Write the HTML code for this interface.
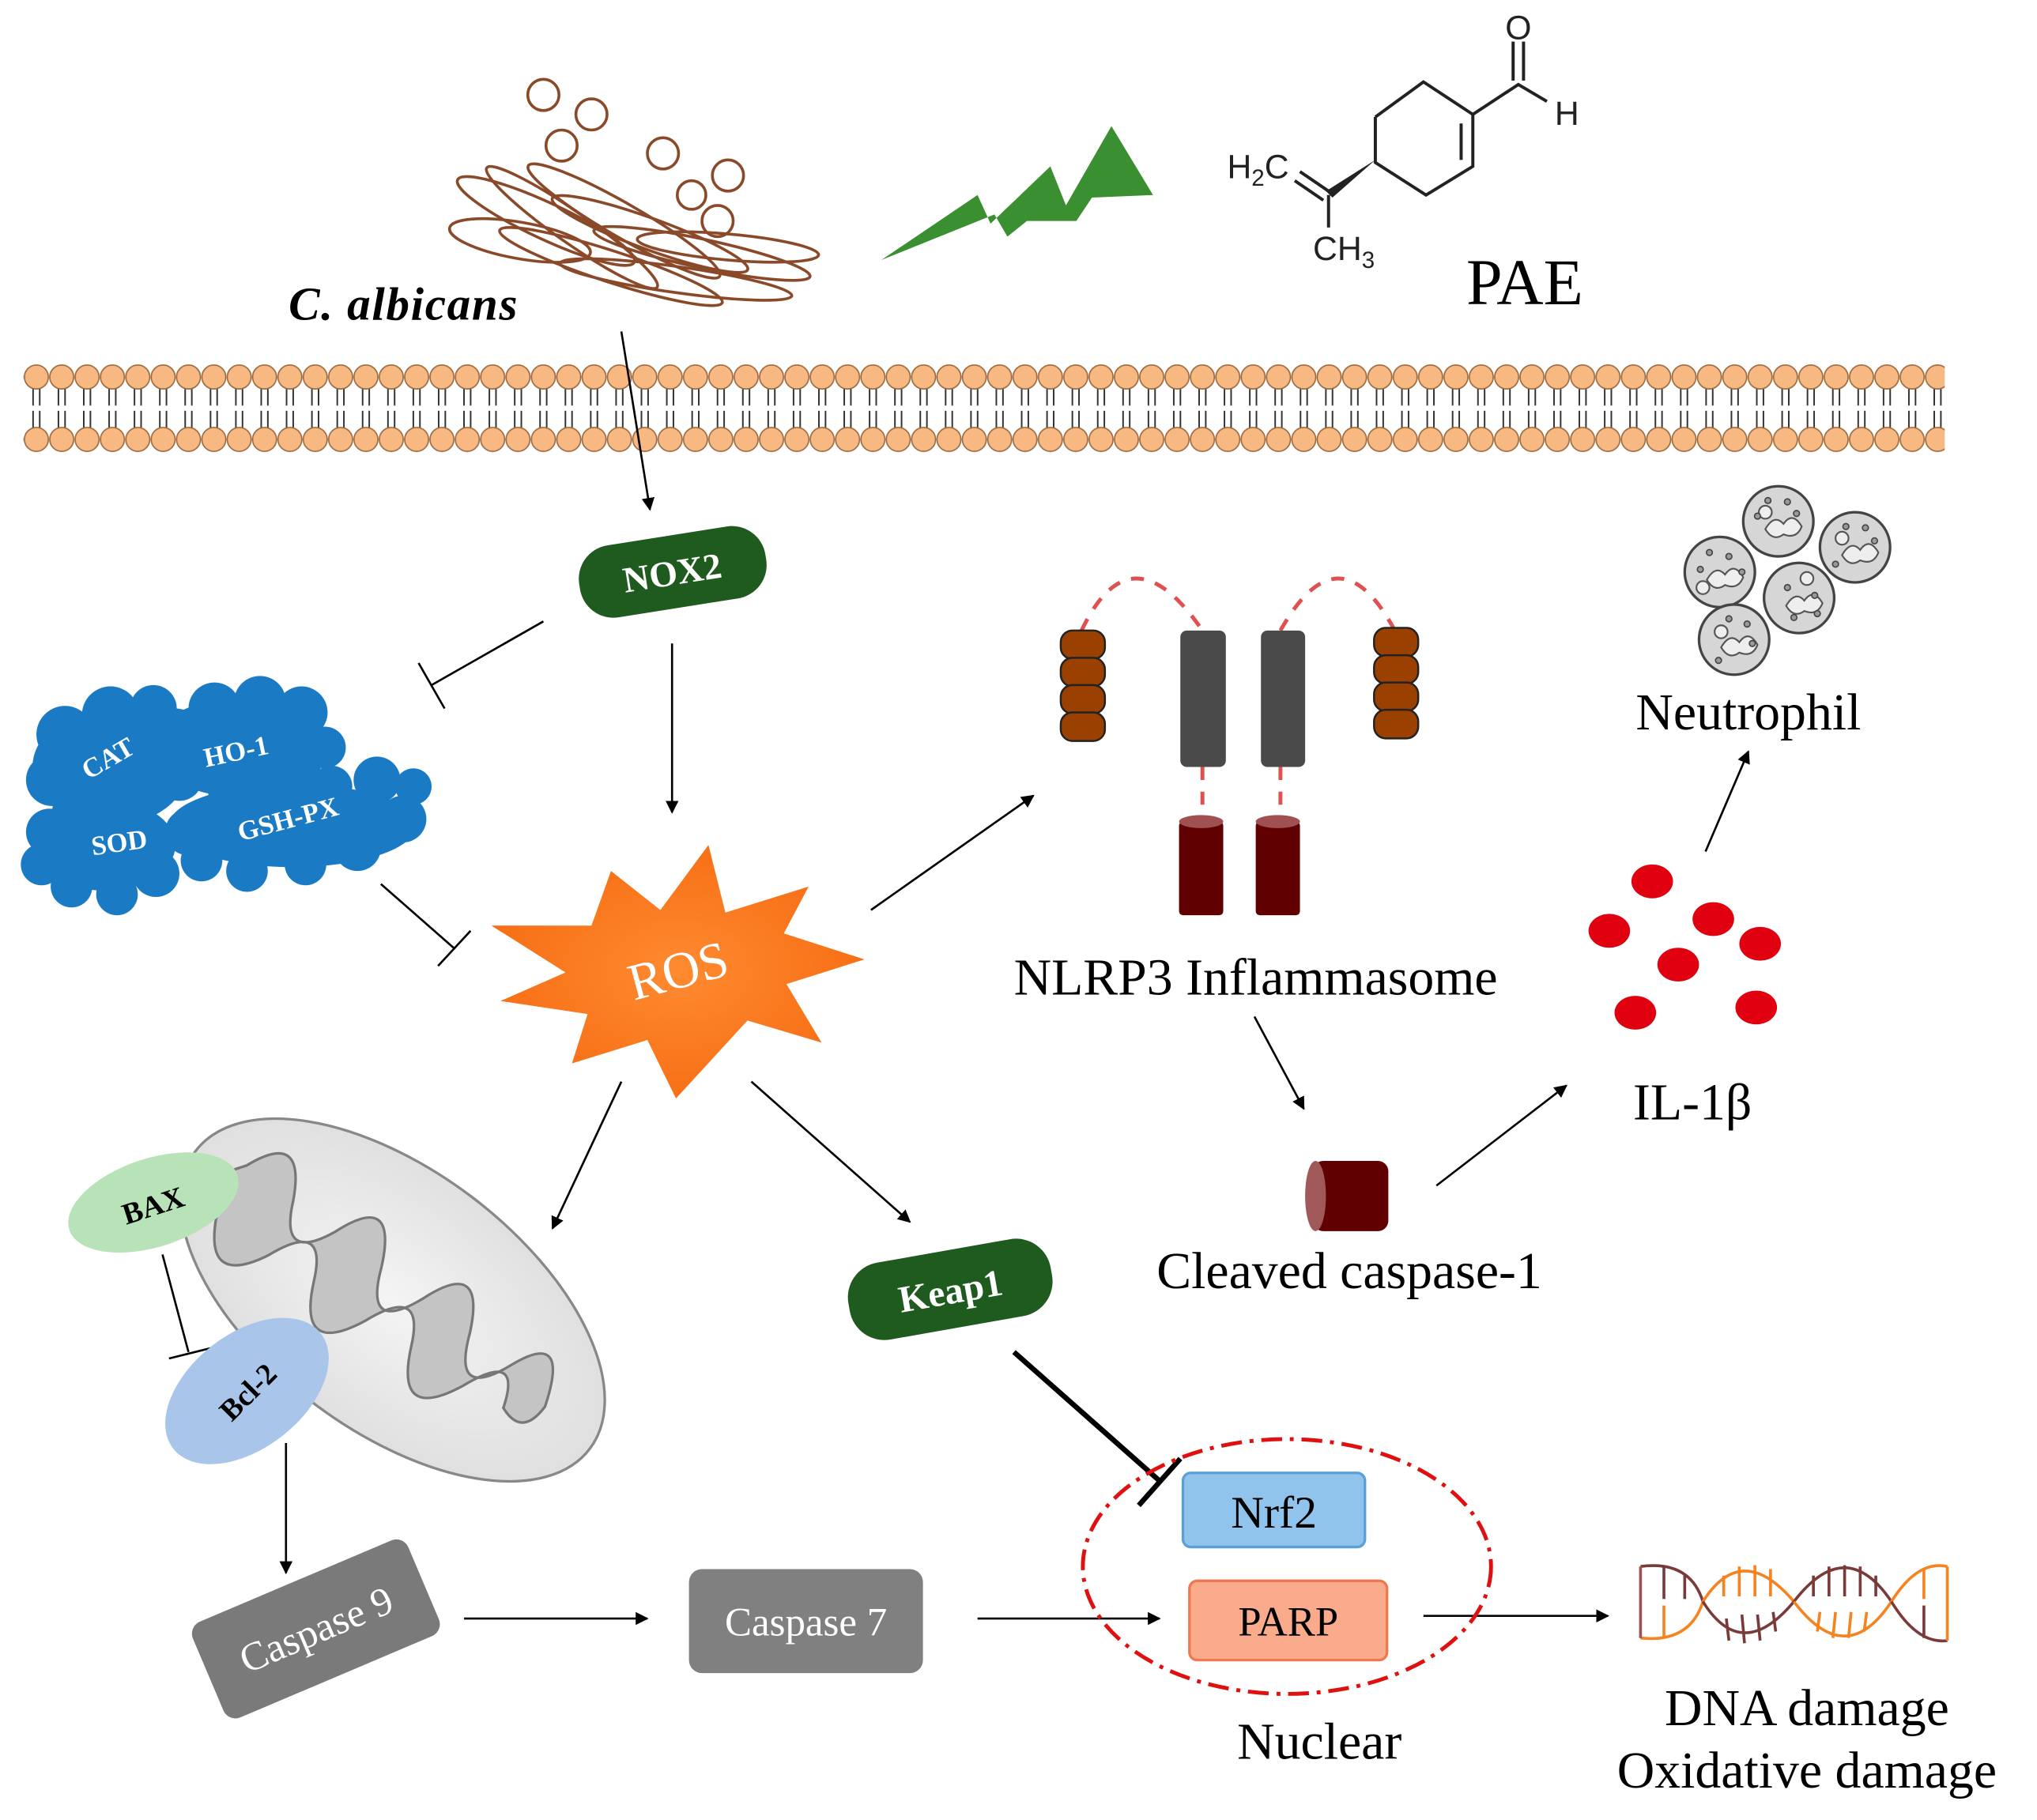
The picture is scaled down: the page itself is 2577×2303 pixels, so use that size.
<!DOCTYPE html>
<html><head><meta charset="utf-8"><style>
html,body{margin:0;padding:0;background:#fff;}
svg{display:block;}
text{font-family:"Liberation Serif",serif;}
</style></head><body>
<svg width="2577" height="2303" viewBox="0 0 1567 1400" preserveAspectRatio="none" xmlns="http://www.w3.org/2000/svg">
<defs>
<marker id="ar" markerWidth="10" markerHeight="10" refX="9" refY="5" orient="auto" markerUnits="userSpaceOnUse" viewBox="0 0 10 10">
<path d="M0,0 L10,5 L0,10 z" fill="#000"/></marker>
<radialGradient id="rosg" cx="0.5" cy="0.5" r="0.6"><stop offset="0" stop-color="#ff8a30"/><stop offset="1" stop-color="#f56a10"/></radialGradient>
<radialGradient id="mito" cx="0.5" cy="0.5" r="0.6"><stop offset="0" stop-color="#f4f4f4"/><stop offset="1" stop-color="#dcdcdc"/></radialGradient>
<pattern id="mem" x="18.25" y="280" width="19.5" height="70" patternUnits="userSpaceOnUse">
<line x1="7.2" y1="18" x2="7.2" y2="52" stroke="#333" stroke-width="1.2" stroke-dasharray="14,4"/>
<line x1="12.3" y1="18" x2="12.3" y2="52" stroke="#333" stroke-width="1.2" stroke-dasharray="14,4"/>
<circle cx="9.75" cy="10" r="9.2" fill="#f8b882" stroke="#9a6a40" stroke-width="1"/>
<circle cx="9.75" cy="58" r="9.2" fill="#f8b882" stroke="#9a6a40" stroke-width="1"/>
</pattern>
</defs>

<!-- C. albicans -->
<g fill="none" stroke="#8a4a2a" stroke-width="2.2">
<circle cx="418" cy="73" r="12"/><circle cx="455" cy="88" r="12"/><circle cx="432" cy="112" r="12"/>
<circle cx="510" cy="118" r="12"/><circle cx="560" cy="135" r="12"/><circle cx="532" cy="150" r="11"/><circle cx="552" cy="170" r="12"/>
<ellipse cx="420" cy="170" rx="75" ry="14" transform="rotate(25 420 170)"/>
<ellipse cx="440" cy="175" rx="80" ry="12" transform="rotate(35 440 175)"/>
<ellipse cx="480" cy="170" rx="85" ry="13" transform="rotate(30 480 170)"/>
<ellipse cx="500" cy="180" rx="80" ry="12" transform="rotate(20 500 180)"/>
<ellipse cx="540" cy="195" rx="85" ry="11" transform="rotate(12 540 195)"/>
<ellipse cx="560" cy="190" rx="70" ry="10" transform="rotate(5 560 190)"/>
<ellipse cx="470" cy="205" rx="90" ry="12" transform="rotate(18 470 205)"/>
<ellipse cx="400" cy="185" rx="55" ry="14" transform="rotate(10 400 185)"/>
<ellipse cx="520" cy="215" rx="90" ry="10" transform="rotate(8 520 215)"/>
</g>
<text x="222" y="246" font-size="36" font-weight="bold" font-style="italic" letter-spacing="1">C. albicans</text>

<!-- lightning -->
<polygon points="678,200 752,150 762,172 808,128 820,158 855,97 887,150 840,152 828,170 790,170 775,182 765,165" fill="#3a8f30"/>

<!-- PAE molecule -->
<g stroke="#222" stroke-width="2.4" fill="none">
<polyline points="1058,90 1095,63 1133,88 1133,128 1097,150 1058,125 1058,90"/>
<line x1="1124" y1="95" x2="1124" y2="123"/>
<polyline points="1133,88 1168,65 1190,78"/>
<line x1="1164" y1="62" x2="1164" y2="32"/><line x1="1172" y1="62" x2="1172" y2="32"/>
<line x1="1022" y1="150" x2="1022" y2="175"/>
<line x1="1000" y1="132" x2="1022" y2="147"/><line x1="996" y1="139" x2="1018" y2="154"/>
</g>
<polygon points="1058,123 1020,147 1025,152" fill="#222"/>
<g font-size="26" fill="#222">
<text x="1168" y="30" text-anchor="middle" style="font-family:'Liberation Sans',sans-serif">O</text>
<text x="1196" y="96" style="font-family:'Liberation Sans',sans-serif">H</text>
<text x="944" y="137" style="font-family:'Liberation Sans',sans-serif">H<tspan font-size="18" dy="6">2</tspan><tspan dy="-6">C</tspan></text>
<text x="1010" y="200" style="font-family:'Liberation Sans',sans-serif">CH<tspan font-size="18" dy="6">3</tspan></text>
</g>
<text x="1128" y="234" font-size="50">PAE</text>

<!-- membrane -->
<rect x="18" y="280" width="1478" height="70" fill="url(#mem)"/>

<!-- arrows -->
<g stroke="#000" stroke-width="1.6" fill="none">
<line x1="478" y1="255" x2="500" y2="392" marker-end="url(#ar)"/>
<line x1="517" y1="495" x2="517" y2="625" marker-end="url(#ar)"/>
<line x1="670" y1="700" x2="795" y2="612" marker-end="url(#ar)"/>
<line x1="478" y1="832" x2="425" y2="945" marker-end="url(#ar)"/>
<line x1="578" y1="832" x2="700" y2="940" marker-end="url(#ar)"/>
<line x1="965" y1="782" x2="1003" y2="853" marker-end="url(#ar)"/>
<line x1="1105" y1="912" x2="1205" y2="835" marker-end="url(#ar)"/>
<line x1="1312" y1="655" x2="1345" y2="578" marker-end="url(#ar)"/>
<line x1="220" y1="1110" x2="220" y2="1210" marker-end="url(#ar)"/>
<line x1="357" y1="1245" x2="498" y2="1245" marker-end="url(#ar)"/>
<line x1="752" y1="1245" x2="892" y2="1245" marker-end="url(#ar)"/>
<line x1="1095" y1="1243" x2="1237" y2="1243" marker-end="url(#ar)"/>
<line x1="418" y1="478" x2="332" y2="527"/><line x1="322" y1="510" x2="342" y2="545"/>
<line x1="293" y1="680" x2="350" y2="730"/><line x1="337" y1="743" x2="362" y2="716"/>
<line x1="125" y1="965" x2="145" y2="1040"/><line x1="130" y1="1045" x2="162" y2="1037"/>
</g>
<line x1="780" y1="1040" x2="893" y2="1140" stroke="#000" stroke-width="4"/>
<line x1="876" y1="1158" x2="908" y2="1122" stroke="#000" stroke-width="4"/>

<!-- NOX2 -->
<g transform="rotate(-9 517 440)">
<rect x="445" y="412" width="145" height="56" rx="26" fill="#1f5a1f"/>
<text x="517" y="450" font-size="28" font-weight="bold" fill="#fff" text-anchor="middle">NOX2</text>
</g>

<!-- clouds -->
<g fill="#1a7bc4">
<ellipse cx="85" cy="590" rx="60" ry="45"/>
<circle cx="50" cy="565" r="22"/><circle cx="85" cy="550" r="22"/><circle cx="118" cy="545" r="18"/><circle cx="135" cy="580" r="22"/><circle cx="40" cy="600" r="20"/><circle cx="60" cy="625" r="20"/>
<ellipse cx="185" cy="575" rx="68" ry="38"/>
<circle cx="135" cy="565" r="20"/><circle cx="165" cy="545" r="20"/><circle cx="200" cy="540" r="20"/><circle cx="232" cy="548" r="20"/><circle cx="250" cy="575" r="16"/><circle cx="228" cy="600" r="20"/><circle cx="180" cy="608" r="20"/><circle cx="138" cy="598" r="18"/>
<ellipse cx="80" cy="650" rx="55" ry="35"/>
<circle cx="38" cy="640" r="18"/><circle cx="32" cy="665" r="16"/><circle cx="55" cy="682" r="16"/><circle cx="90" cy="688" r="16"/><circle cx="120" cy="672" r="18"/><circle cx="60" cy="622" r="18"/>
<ellipse cx="225" cy="635" rx="95" ry="32"/>
<circle cx="145" cy="640" r="18"/><circle cx="155" cy="662" r="16"/><circle cx="190" cy="670" r="16"/><circle cx="235" cy="665" r="16"/><circle cx="275" cy="652" r="18"/><circle cx="310" cy="630" r="18"/><circle cx="318" cy="605" r="14"/><circle cx="290" cy="600" r="18"/><circle cx="255" cy="605" r="16"/>
</g>
<g fill="#fff" font-weight="bold" font-size="21">
<text x="84" y="590" text-anchor="middle" transform="rotate(-30 84 585)">CAT</text>
<text x="182" y="585" text-anchor="middle" transform="rotate(-12 182 580)">HO-1</text>
<text x="92" y="655" text-anchor="middle" transform="rotate(-8 92 650)">SOD</text>
<text x="222" y="637" text-anchor="middle" transform="rotate(-15 222 632)">GSH-PX</text>
</g>

<!-- ROS -->
<polygon fill="url(#rosg)" points="545,650 558,702 622,682 603,718 665,738 605,757 632,802 575,785 520,845 498,800 440,818 452,780 385,770 435,748 378,712 455,712 470,670 508,700"/>
<text x="522" y="760" font-size="40" fill="#fff" text-anchor="middle" transform="rotate(-15 522 748)">ROS</text>

<!-- NLRP3 -->
<g fill="none" stroke="#e05050" stroke-width="3" stroke-dasharray="10,9">
<path d="M832,485 Q870,405 925,485"/><path d="M985,485 Q1030,405 1073,485"/>
<line x1="925" y1="590" x2="925" y2="630"/><line x1="985" y1="590" x2="985" y2="630"/>
</g>
<g fill="#9a4000" stroke="#222" stroke-width="1.5">
<rect x="816" y="485" width="34" height="22" rx="9"/><rect x="816" y="506" width="34" height="22" rx="9"/><rect x="816" y="527" width="34" height="22" rx="9"/><rect x="816" y="548" width="34" height="22" rx="9"/>
<rect x="1057" y="483" width="34" height="22" rx="9"/><rect x="1057" y="504" width="34" height="22" rx="9"/><rect x="1057" y="525" width="34" height="22" rx="9"/><rect x="1057" y="546" width="34" height="22" rx="9"/>
</g>
<rect x="908" y="485" width="35" height="105" rx="5" fill="#4a4a4a"/>
<rect x="970" y="485" width="34" height="105" rx="5" fill="#4a4a4a"/>
<g fill="#600000">
<rect x="907" y="632" width="34" height="72" rx="3"/><rect x="966" y="632" width="34" height="72" rx="3"/>
</g>
<ellipse cx="924" cy="632" rx="17" ry="5" fill="#a05050"/><ellipse cx="983" cy="632" rx="17" ry="5" fill="#a05050"/>
<text x="966" y="765" font-size="40" text-anchor="middle">NLRP3 Inflammasome</text>

<!-- cleaved caspase -->
<rect x="1010" y="893" width="58" height="54" rx="8" fill="#600000"/>
<ellipse cx="1012" cy="920" rx="8" ry="27" fill="#a05858"/>
<text x="1038" y="991" font-size="40" text-anchor="middle">Cleaved caspase-1</text>

<!-- IL-1b -->
<g fill="#e00010">
<ellipse cx="1271" cy="678" rx="16" ry="13"/><ellipse cx="1238" cy="716" rx="16" ry="13"/><ellipse cx="1318" cy="707" rx="16" ry="13"/>
<ellipse cx="1354" cy="726" rx="16" ry="13"/><ellipse cx="1291" cy="742" rx="16" ry="13"/><ellipse cx="1258" cy="779" rx="16" ry="13"/><ellipse cx="1351" cy="775" rx="16" ry="13"/>
</g>
<text x="1302" y="861" font-size="40" text-anchor="middle">IL-1β</text>

<!-- neutrophils -->
<g stroke="#444" stroke-width="2" fill="#d6d6d6">
<circle cx="1323" cy="440" r="27"/><circle cx="1368" cy="401" r="27"/><circle cx="1427" cy="421" r="27"/><circle cx="1384" cy="460" r="27"/><circle cx="1334" cy="492" r="27"/>
</g>
<g stroke="#555" stroke-width="1.3" fill="#eee">
<path d="M1313,446 q7,-12 14,-4 q7,-10 14,2 q-4,10 -14,6 q-8,6 -14,-4z"/>
<path d="M1358,407 q7,-12 14,-4 q7,-10 14,2 q-4,10 -14,6 q-8,6 -14,-4z"/>
<path d="M1417,427 q7,-12 14,-4 q7,-10 14,2 q-4,10 -14,6 q-8,6 -14,-4z"/>
<path d="M1374,466 q7,-12 14,-4 q7,-10 14,2 q-4,10 -14,6 q-8,6 -14,-4z"/>
<path d="M1324,498 q7,-12 14,-4 q7,-10 14,2 q-4,10 -14,6 q-8,6 -14,-4z"/>
<circle cx="1310" cy="452" r="5"/><circle cx="1358" cy="394" r="5"/><circle cx="1417" cy="414" r="5"/><circle cx="1390" cy="445" r="5"/><circle cx="1324" cy="486" r="5"/>
</g>
<g fill="#999" stroke="#444" stroke-width="1">
<circle cx="1315" cy="425" r="2.3"/><circle cx="1330" cy="428" r="2.3"/><circle cx="1340" cy="440" r="2.3"/><circle cx="1308" cy="438" r="2.3"/>
<circle cx="1360" cy="385" r="2.3"/><circle cx="1375" cy="386" r="2.3"/><circle cx="1382" cy="395" r="2.3"/><circle cx="1352" cy="397" r="2.3"/>
<circle cx="1420" cy="405" r="2.3"/><circle cx="1435" cy="406" r="2.3"/><circle cx="1442" cy="416" r="2.3"/><circle cx="1412" cy="434" r="2.3"/>
<circle cx="1375" cy="452" r="2.3"/><circle cx="1396" cy="458" r="2.3"/><circle cx="1380" cy="475" r="2.3"/><circle cx="1398" cy="472" r="2.3"/>
<circle cx="1330" cy="476" r="2.3"/><circle cx="1344" cy="480" r="2.3"/><circle cx="1348" cy="495" r="2.3"/><circle cx="1322" cy="508" r="2.3"/>
</g>
<text x="1345" y="561" font-size="40" text-anchor="middle">Neutrophil</text>

<!-- mitochondrion -->
<g transform="rotate(37 302 1000)">
<ellipse cx="302" cy="1000" rx="190" ry="100" fill="url(#mito)" stroke="#888" stroke-width="2"/>
<path d="M150,985 q20,-50 45,0 q20,45 40,0 q20,-55 45,0 q20,50 40,0 q20,-55 45,0 q20,50 40,0 q20,-50 40,10 q0,30 -25,20 q-15,-45 -35,5 q-25,55 -50,0 q-20,-45 -40,5 q-25,55 -50,0 q-20,-45 -40,5 q-25,50 -50,0 q-20,-40 -40,5 z" fill="#c4c4c4" stroke="#777" stroke-width="2"/>
</g>
<ellipse cx="118" cy="925" rx="68" ry="34" fill="#b8e2b8" transform="rotate(-18 118 925)"/>
<text x="118" y="935" font-size="23" font-weight="bold" text-anchor="middle" transform="rotate(-18 118 928)">BAX</text>
<ellipse cx="190" cy="1070" rx="72" ry="44" fill="#a9c6ea" transform="rotate(-38 190 1070)"/>
<text x="192" y="1078" font-size="23" font-weight="bold" text-anchor="middle" transform="rotate(-45 192 1072)">Bcl-2</text>

<!-- caspases -->
<g transform="rotate(-23 243 1253)">
<rect x="153" y="1213" width="180" height="80" rx="10" fill="#7a7a7a"/>
<text x="243" y="1264" font-size="31" fill="#fff" text-anchor="middle">Caspase 9</text>
</g>
<rect x="530" y="1207" width="180" height="80" rx="10" fill="#808080"/>
<text x="620" y="1258" font-size="31" fill="#fff" text-anchor="middle">Caspase 7</text>

<!-- Keap1 -->
<g transform="rotate(-10 730 992)">
<rect x="652" y="962" width="158" height="60" rx="27" fill="#1f5a1f"/>
<text x="731" y="1003" font-size="29" font-weight="bold" fill="#fff" text-anchor="middle">Keap1</text>
</g>

<!-- nucleus -->
<ellipse cx="990" cy="1205" rx="157" ry="98" fill="none" stroke="#e01010" stroke-width="3" stroke-dasharray="16,6,3,6"/>
<rect x="910" y="1133" width="140" height="57" rx="6" fill="#90c4ec" stroke="#5aa0d8" stroke-width="2"/>
<text x="980" y="1175" font-size="35" text-anchor="middle">Nrf2</text>
<rect x="915" y="1216" width="152" height="61" rx="6" fill="#f9ab8c" stroke="#f07850" stroke-width="2"/>
<text x="991" y="1258" font-size="32" text-anchor="middle">PARP</text>
<text x="1015" y="1353" font-size="40" text-anchor="middle">Nuclear</text>

<!-- DNA -->
<g fill="none" stroke-width="2.2">
<path d="M1262,1205 Q1300,1200 1310,1232" stroke="#7a3a3a"/>
<path d="M1262,1260 Q1300,1264 1310,1232" stroke="#f5831f"/>
<path d="M1310,1232 Q1340,1185 1380,1232" stroke="#f5831f"/>
<path d="M1310,1232 Q1340,1280 1380,1232" stroke="#7a3a3a"/>
<path d="M1380,1232 Q1420,1180 1455,1232" stroke="#7a3a3a"/>
<path d="M1380,1232 Q1420,1285 1455,1232" stroke="#f5831f"/>
<path d="M1455,1232 Q1475,1200 1498,1205" stroke="#f5831f"/>
<path d="M1455,1232 Q1475,1265 1498,1262" stroke="#7a3a3a"/>
<line x1="1262" y1="1205" x2="1262" y2="1260" stroke="#a05050"/>
<line x1="1498" y1="1205" x2="1498" y2="1262" stroke="#f5831f"/>
<g stroke="#f5831f"><line x1="1326" y1="1212" x2="1326" y2="1228"/><line x1="1338" y1="1205" x2="1338" y2="1228"/><line x1="1350" y1="1204" x2="1350" y2="1228"/><line x1="1362" y1="1207" x2="1362" y2="1228"/><line x1="1400" y1="1240" x2="1398" y2="1255"/><line x1="1412" y1="1240" x2="1410" y2="1260"/><line x1="1424" y1="1240" x2="1422" y2="1260"/><line x1="1436" y1="1240" x2="1434" y2="1255"/><line x1="1280" y1="1235" x2="1280" y2="1260"/><line x1="1480" y1="1207" x2="1480" y2="1230"/></g>
<g stroke="#7a3a3a"><line x1="1328" y1="1245" x2="1330" y2="1262"/><line x1="1340" y1="1242" x2="1342" y2="1264"/><line x1="1352" y1="1242" x2="1354" y2="1262"/><line x1="1364" y1="1240" x2="1366" y2="1255"/><line x1="1395" y1="1212" x2="1395" y2="1228"/><line x1="1407" y1="1205" x2="1407" y2="1228"/><line x1="1419" y1="1204" x2="1419" y2="1228"/><line x1="1431" y1="1205" x2="1431" y2="1228"/><line x1="1443" y1="1212" x2="1443" y2="1228"/><line x1="1280" y1="1205" x2="1280" y2="1230"/><line x1="1296" y1="1212" x2="1296" y2="1230"/><line x1="1480" y1="1235" x2="1480" y2="1260"/></g>
</g>
<text x="1390" y="1327" font-size="40" text-anchor="middle">DNA damage</text>
<text x="1390" y="1375" font-size="40" text-anchor="middle">Oxidative damage</text>
</svg>
</body></html>
